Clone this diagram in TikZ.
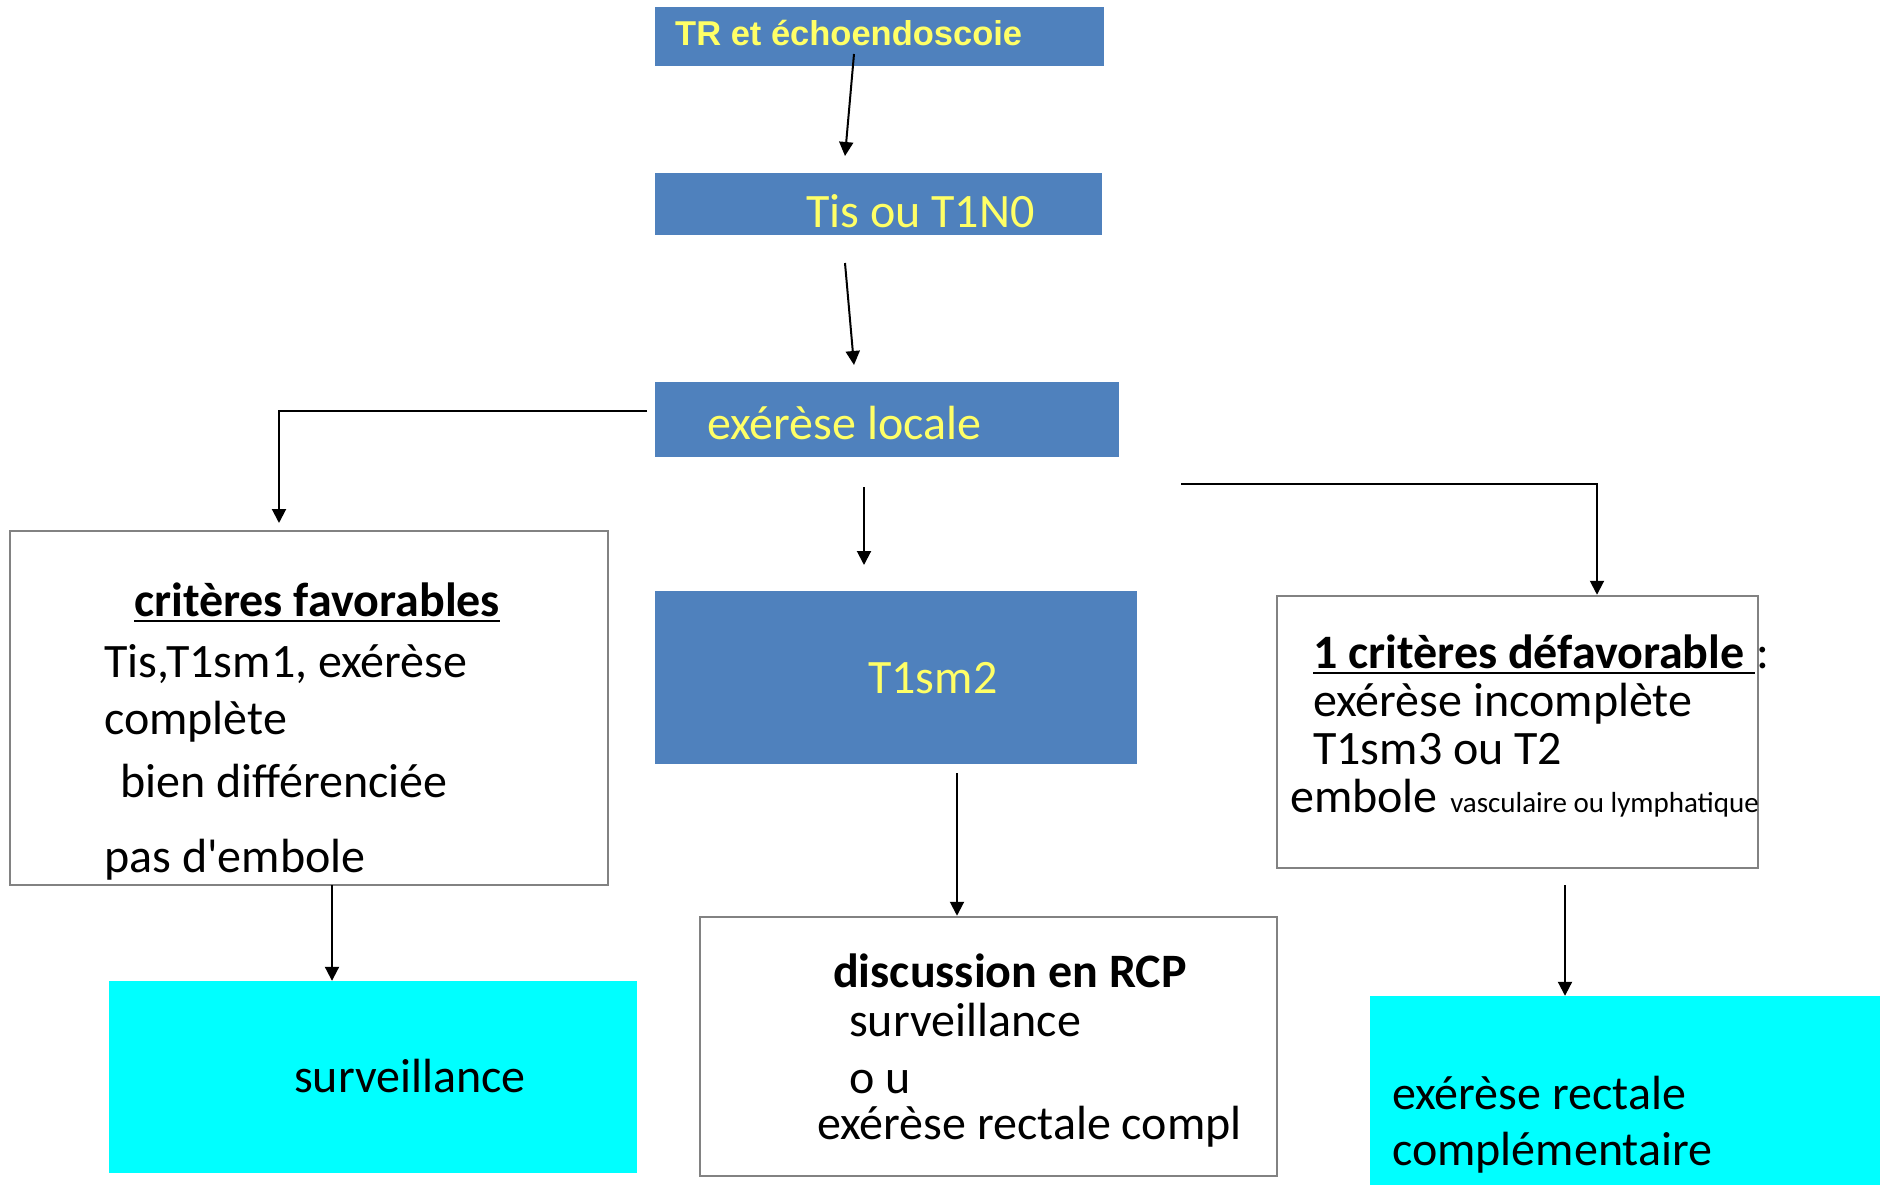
\documentclass[tikz,border=0pt]{standalone}
\usepackage{fontspec}
\setmainfont{Carlito}
\newfontfamily\arialf{Liberation Sans}
\usetikzlibrary{arrows.meta}
\definecolor{boxblue}{RGB}{79,129,189}
\definecolor{txtyellow}{RGB}{255,255,102}
\definecolor{bordergray}{RGB}{130,130,130}
\definecolor{cyanfill}{RGB}{0,255,255}
\begin{document}
\begin{tikzpicture}[x=1pt,y=-1pt,
  bluebox/.style={fill=boxblue, draw=none, inner sep=0pt},
  whitebox/.style={fill=white, draw=bordergray, line width=2.5pt, inner sep=0pt},
  cyanbox/.style={fill=cyanfill, draw=none, inner sep=0pt},
  txt/.style={inner sep=0pt, anchor=base west, font=\fontsize{48}{56}\selectfont},
  boldtxt/.style={txt, font=\bfseries\fontsize{48}{56}\selectfont},
  smalltxt/.style={inner sep=0pt, anchor=base west, font=\fontsize{29}{34}\selectfont},
  ytxt/.style={txt, text=txtyellow},
  arr/.style={line width=2pt, -{Triangle[width=14pt,length=14pt]}},
  uline/.style={line width=2.6pt}
]
\useasboundingbox (0,0) rectangle (1880,1185);
\fill[white] (0,0) rectangle (1880,1185);

% boxes
\node[bluebox, minimum width=449, minimum height=59] (tr) at (879.5,36.5) {};
\node[bluebox, minimum width=447, minimum height=62] (tis) at (878.5,204) {};
\node[bluebox, minimum width=464, minimum height=75] (exl) at (887,419.5) {};
\node[bluebox, minimum width=482, minimum height=173] (t1sm2) at (896,677.5) {};
\node[whitebox, minimum width=598, minimum height=354] (fav) at (309,708) {};
\node[whitebox, minimum width=577, minimum height=259] (disc) at (988.5,1046.5) {};
\node[whitebox, minimum width=481, minimum height=272] (def) at (1517.5,732) {};
\node[cyanbox, minimum width=528, minimum height=192] (surv) at (373,1077) {};
\node[cyanbox, minimum width=510, minimum height=189] (comp) at (1625,1090.5) {};

% texts
\node[inner sep=0pt, anchor=base west, text=txtyellow, font=\arialf\bfseries\fontsize{34.5}{40}\selectfont] (trt) at (675,46) {TR et échoendoscoie};
\node[ytxt] (tist) at (806,228) {Tis ou T1N0};
\node[ytxt] (exlt) at (707,439) {exérèse locale};
\node[ytxt] (t1t) at (868,693) {T1sm2};

\node[boldtxt] (fav1) at (134,616) {critères favorables};
\draw[uline] ([yshift=-5pt]fav1.base west) -- ([yshift=-5pt]fav1.base east);
\node[txt] (fav2) at (104,677) {Tis,T1sm1, exérèse};
\node[txt] (fav3) at (104,734) {complète};
\node[txt] (fav4) at (120,797) {bien différenciée};
\node[txt] (fav5) at (104,872) {pas d\textquotesingle embole};

\node[boldtxt] (def1) at (1313,668) {1 critères défavorable};
\draw[uline] ([yshift=-5pt]def1.base west) -- ([xshift=10pt,yshift=-5pt]def1.base east);
\node[txt] (def1b) at ([xshift=11pt]def1.base east) {:};
\node[txt] (def2) at (1313,716) {exérèse incomplète};
\node[txt] (def3) at (1313,764) {T1sm3 ou T2};
\node[txt] (def4) at (1290,812) {embole};
\node[smalltxt] (def5) at ([xshift=12pt]def4.base east) {vasculaire ou lymphatique};

\node[boldtxt] (disc1) at (833,987) {discussion en RCP};
\node[txt] (disc2) at (849,1036) {surveillance};
\node[txt] (disc3) at (849,1093) {o u};
\node[txt] (disc4) at (817,1139) {exérèse rectale compl};

\node[txt] (survt) at (294,1092) {surveillance};
\node[txt] (comp1) at (1392,1109) {exérèse rectale};
\node[txt] (comp2) at (1392,1165) {complémentaire};

% connector end points
\coordinate (a1s) at (854,54);
\coordinate (a1e) at (845,156);
\coordinate (a2s) at (845,263);
\coordinate (a2e) at (854,365);
\coordinate (ls) at (647,411);
\coordinate (lc) at (279,411);
\coordinate (le) at (279,523);
\coordinate (ms) at (864,487);
\coordinate (me) at (864,565);
\coordinate (rs) at (1181,484);
\coordinate (rc) at (1597,484);
\coordinate (ts) at (957,773);
\coordinate (fs) at (332,885);
\coordinate (ds) at (1565,885);

\draw[arr] (a1s) -- (a1e);
\draw[arr] (a2s) -- (a2e);
\draw[arr] (ls) -- (lc) -- (le);
\draw[arr] (ms) -- (me);
\draw[arr] (rs) -- (rc) -- (rc |- def.north);
\draw[arr] (ts) -- (ts |- disc.north);
\draw[arr] (fs) -- (fs |- surv.north);
\draw[arr] (ds) -- (ds |- comp.north);
\end{tikzpicture}
\end{document}
